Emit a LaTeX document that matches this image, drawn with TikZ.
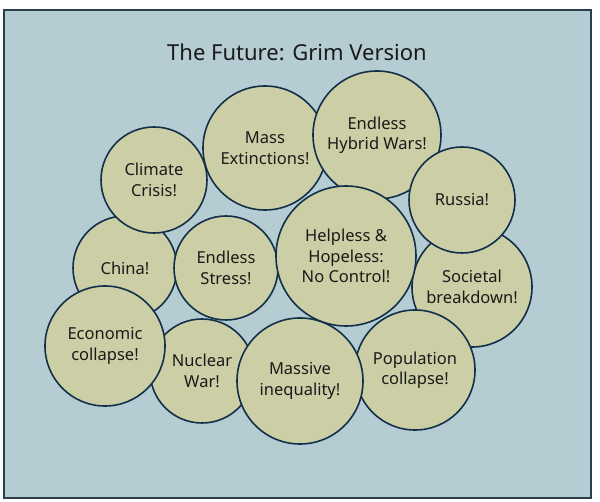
\documentclass[tikz,border=0pt]{standalone}
\usepackage{fontspec}
\setmainfont{Noto Sans}
\definecolor{bgc}{HTML}{B4CCD2}
\definecolor{circf}{HTML}{CCCFA6}
\definecolor{circd}{HTML}{12304A}
\definecolor{framec}{HTML}{2A3E4E}
\definecolor{txt}{HTML}{1A1A1A}
\begin{document}
\begin{tikzpicture}[x=1pt,y=-1pt,
  bubble/.style={circle,draw=circd,line width=1.6pt,fill=circf,inner sep=0pt,
    minimum size=#1,align=center,text=txt,font=\fontsize{16.5}{20.5}\selectfont},
  bubble/.default=104pt]
\useasboundingbox (0,0) rectangle (600,502);
\fill[white] (0,0) rectangle (600,502);
\node[draw=framec,line width=1.5pt,fill=bgc,minimum width=587pt,minimum height=488pt,inner sep=0pt] (frame) at (297.5,254) {};
\node[font=\fontsize{22}{26}\selectfont,text=txt] (title) at (297,52) {The Future: Grim Version};
\node[bubble=104pt] (china) at (125,268) {China!};
\node[bubble=106pt] (climate) at (154,180) {Climate\\Crisis!};
\node[bubble=124pt] (mass) at (265,148) {Mass\\Extinctions!};
\node[bubble=128pt] (hybrid) at (377,135) {Endless\\Hybrid Wars!};
\node[bubble=104pt] (stress) at (226,268) {Endless\\Stress!};
\node[bubble=120pt] (societal) at (472,287) {Societal\\breakdown!};
\node[bubble=106pt] (russia) at (462,200) {Russia!};
\node[bubble=140pt] (helpless) at (346,256) {Helpless \&\\Hopeless:\\No Control!};
\node[bubble=120pt] (population) at (415,370) {Population\\collapse!};
\node[bubble=104pt] (nuclear) at (202,371) {Nuclear\\War!};
\node[bubble=120pt] (economic) at (105,346) {Economic\\collapse!};
\node[bubble=126pt] (massive) at (300,381) {Massive\\inequality!};
\end{tikzpicture}
\end{document}
